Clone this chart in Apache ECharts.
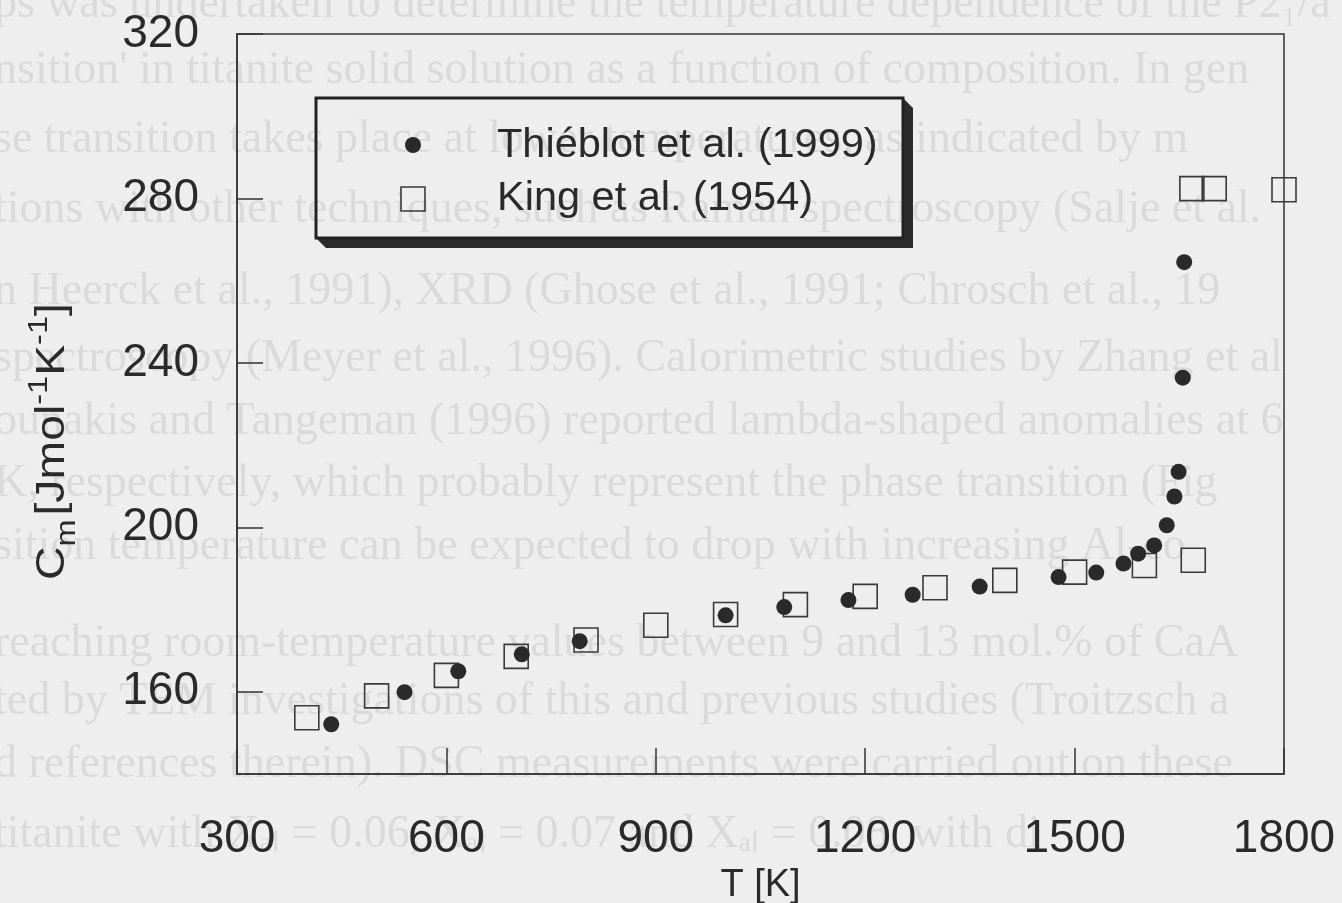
<!DOCTYPE html>
<html>
<head>
<meta charset="utf-8">
<title>Heat capacity of titanite</title>
<script src="https://cdn.jsdelivr.net/npm/echarts@6/dist/echarts.min.js"></script>
<style>
  html, body { margin: 0; padding: 0; background: #eeeeee; }
  #chart { width: 1342px; height: 903px; }
</style>
</head>
<body>
<div id="chart"></div>
<script>
// Thiéblot et al. (1999): temperature [K] and molar heat capacity [J mol-1 K-1]
const thieblotT  = [435, 540, 617, 708, 791, 1000, 1084, 1176, 1268, 1364, 1477, 1531, 1570, 1591, 1614, 1632, 1643, 1649, 1655, 1657];
const thieblotCm = [152.1, 159.9, 165.0, 169.1, 172.3, 178.6, 180.6, 182.3, 183.6, 185.6, 187.9, 189.0, 191.2, 193.6, 195.6, 200.5, 207.5, 213.5, 236.4, 264.5];

// King et al. (1954)
const kingT  = [400, 500, 600, 700, 800, 900, 1000, 1100, 1200, 1300, 1400, 1500, 1600, 1668, 1670, 1700, 1800];
const kingCm = [153.7, 159.0, 164.0, 168.6, 172.6, 176.2, 178.8, 181.2, 183.2, 185.3, 187.1, 189.1, 190.7, 282.4, 192.0, 282.4, 282.1];

const seriesNames = ['Thiéblot et al. (1999)', 'King et al. (1954)'];
const yTicks = [160, 200, 240, 280, 320];

// faint show-through lines of the printed page behind the figure
const pageLines = [
  'ps was undertaken to determine the temperature dependence of the P2\u2081/a',
  "nsition' in titanite solid solution as a function of composition. In gen",
  'se transition takes place at lower temperatures, as indicated by m',
  'tions with other techniques, such as Raman spectroscopy (Salje et al.',
  'n Heerck et al., 1991), XRD (Ghose et al., 1991; Chrosch et al., 19',
  'spectroscopy (Meyer et al., 1996). Calorimetric studies by Zhang et al',
  'ounakis and Tangeman (1996) reported lambda-shaped anomalies at 6',
  'K, respectively, which probably represent the phase transition (Fig',
  'sition temperature can be expected to drop with increasing Al-co',
  'reaching room-temperature values between 9 and 13 mol.% of CaA',
  'ted by TEM investigations of this and previous studies (Troitzsch a',
  'd references therein). DSC measurements were carried out on these',
  'titanite with X\u2090\u2097 = 0.06, X\u2090\u2097 = 0.07 and X\u2090\u2097 = 0.08, with di'
];
const pageLineY = [8, 74, 143, 213, 295, 362, 425, 487, 550, 647, 705, 768, 838];

const SANS = '"Liberation Sans", Arial, Helvetica, sans-serif';
const INK = '#2a2a2a';

const chart = echarts.init(document.getElementById('chart'), null, { renderer: 'canvas' });

const pageText = pageLines.map((t, i) => ({
  type: 'text',
  z: -100,
  silent: true,
  left: -6,
  top: pageLineY[i] - 26,
  style: {
    text: t,
    font: '46px "Liberation Serif", "Times New Roman", serif',
    fill: '#dadada'
  }
}));

// rotated y-axis title with sub- and superscripts
const yTitle = {
  type: 'text',
  z: 5,
  silent: true,
  x: 53,
  y: 580,
  rotation: Math.PI / 2,
  scaleX: 1.16,
  style: {
    text: '{c|C}{s|m} {c|[Jmol}{p|-1}{c|K}{p|-1}{c|]}',
    align: 'left',
    verticalAlign: 'middle',
    fill: INK,
    rich: {
      c: { fontFamily: SANS, fontSize: 40, fill: INK, lineHeight: 56, verticalAlign: 'middle' },
      s: { fontFamily: SANS, fontSize: 28, fill: INK, lineHeight: 28, verticalAlign: 'bottom' },
      p: { fontFamily: SANS, fontSize: 28, fill: INK, lineHeight: 28, verticalAlign: 'top' }
    }
  }
};

// legend frame with bevelled drop shadow
const LX = 316, LY = 98, LW = 587, LH = 140, SH = 10;
const legendGraphics = [
  {
    type: 'polygon', z: 10, silent: true,
    shape: { points: [[LX, LY + LH], [LX + LW, LY + LH], [LX + LW, LY], [LX + LW + SH, LY + SH], [LX + LW + SH, LY + LH + SH], [LX + SH, LY + LH + SH]] },
    style: { fill: '#2c2c2c' }
  },
  {
    type: 'rect', z: 11, silent: true,
    shape: { x: LX, y: LY, width: LW, height: LH },
    style: { fill: 'none', stroke: '#222', lineWidth: 3 }
  },
  {
    type: 'circle', z: 11, silent: true,
    shape: { cx: 413, cy: 145, r: 8 },
    style: { fill: INK }
  },
  {
    type: 'rect', z: 11, silent: true,
    shape: { x: 401, y: 187, width: 24, height: 24 },
    style: { fill: 'none', stroke: '#3a3a3a', lineWidth: 1.6 }
  },
  {
    type: 'text', z: 11, silent: true, left: 497, top: 125,
    style: { text: seriesNames[0], font: '41.5px ' + SANS, fill: INK }
  },
  {
    type: 'text', z: 11, silent: true, left: 497, top: 178,
    style: { text: seriesNames[1], font: '41.5px ' + SANS, fill: INK }
  }
];

const option = {
  backgroundColor: '#eeeeee',
  animation: false,
  grid: {
    left: 237, right: 58, top: 34, bottom: 129,
    outerBoundsMode: 'none',
    containLabel: false,
    show: true, borderColor: '#333', borderWidth: 1.5, backgroundColor: 'transparent'
  },
  xAxis: {
    type: 'value',
    min: 300, max: 1800, interval: 300,
    name: 'T [K]',
    nameLocation: 'middle',
    nameGap: 92,
    nameTextStyle: { fontFamily: SANS, fontSize: 38, color: INK },
    axisLine: { show: true, lineStyle: { color: '#333', width: 1.5 } },
    axisTick: { show: true, inside: true, length: 26, lineStyle: { color: '#333', width: 1.5 } },
    axisLabel: { fontFamily: SANS, fontSize: 46, color: INK, margin: 42, formatter: v => String(v) },
    splitLine: { show: false }
  },
  yAxis: {
    type: 'value',
    min: 140, max: 320,
    axisLine: { show: true, lineStyle: { color: '#333', width: 1.5 } },
    axisTick: { show: true, inside: true, length: 26, customValues: yTicks, lineStyle: { color: '#333', width: 1.5 } },
    axisLabel: { fontFamily: SANS, fontSize: 46, color: INK, margin: 38, customValues: yTicks, formatter: v => String(v) },
    splitLine: { show: false }
  },
  graphic: { elements: pageText.concat([yTitle], legendGraphics) },
  series: [
    {
      name: seriesNames[1],
      type: 'scatter',
      symbol: 'rect',
      symbolSize: 24,
      clip: false,
      z: 3,
      itemStyle: { color: 'rgba(0,0,0,0)', borderColor: '#3a3a3a', borderWidth: 1.6, opacity: 1 },
      data: kingT.map((t, i) => [t, kingCm[i]])
    },
    {
      name: seriesNames[0],
      type: 'scatter',
      symbol: 'circle',
      symbolSize: 16,
      clip: false,
      z: 4,
      itemStyle: { color: INK, opacity: 1 },
      data: thieblotT.map((t, i) => [t, thieblotCm[i]])
    }
  ]
};

chart.setOption(option);
</script>
</body>
</html>
